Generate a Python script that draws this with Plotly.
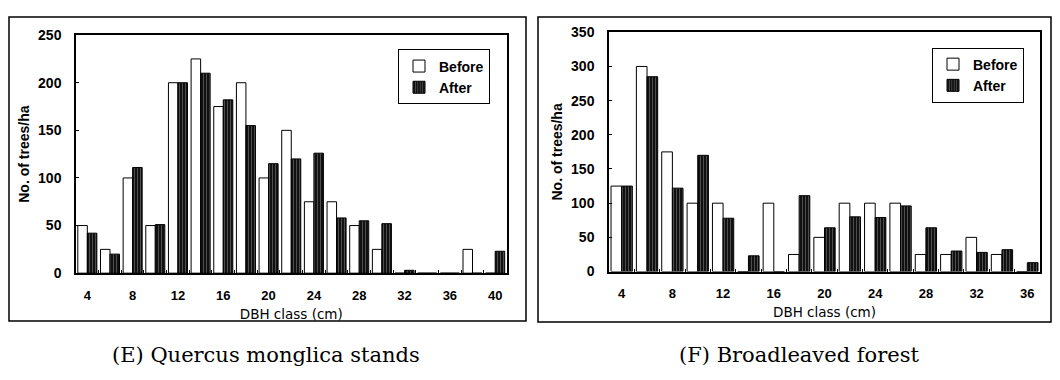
import plotly.graph_objects as go

# figure size leaves room for the page's default 8px body margin
FW, FH = 1044, 364
OFF = 8

# ---- Data: (E) Quercus monglica stands ----
e_classes = [4, 6, 8, 10, 12, 14, 16, 18, 20, 22, 24, 26, 28, 30, 32, 34, 36, 38, 40]
e_before = [50, 25, 100, 50, 200, 225, 175, 200, 100, 150, 75, 75, 50, 25, 0, 0, 0, 25, 0]
e_after = [42, 20, 111, 51, 200, 210, 182, 155, 115, 120, 126, 58, 55, 52, 3, 0, 0, 0, 23]
e_ticks = [4, 8, 12, 16, 20, 24, 28, 32, 36, 40]

# ---- Data: (F) Broadleaved forest ----
f_classes = [4, 6, 8, 10, 12, 14, 16, 18, 20, 22, 24, 26, 28, 30, 32, 34, 36]
f_before = [125, 300, 175, 100, 100, 0, 100, 25, 50, 100, 100, 100, 25, 25, 50, 25, 0]
f_after = [125, 285, 122, 170, 78, 23, 0, 111, 64, 80, 79, 96, 64, 30, 28, 32, 13]
f_ticks = [4, 8, 12, 16, 20, 24, 28, 32, 36]

captions = ["(E) Quercus monglica stands", "(F) Broadleaved forest"]
y_title = "No. of trees/ha"
x_title = "DBH class (cm)"


def px(p):
    return (p - OFF) / FW


def py(p):
    return 1 - (p - OFF) / FH


BOLD = dict(family="Liberation Sans, Arial, sans-serif", size=14, color="black", weight="bold")

before_marker = dict(color="white", line=dict(color="black", width=1))
after_marker = dict(color="#111111", line=dict(color="black", width=1),
                    pattern=dict(shape="|", fgcolor="#9a9a9a", bgcolor="#111111",
                                 size=3, solidity=0.3))

fig = go.Figure()
fig.add_trace(go.Bar(x=e_classes, y=e_before, name="Before", marker=before_marker,
                     xaxis="x", yaxis="y", legend="legend"))
fig.add_trace(go.Bar(x=e_classes, y=e_after, name="After", marker=after_marker,
                     xaxis="x", yaxis="y", legend="legend"))
fig.add_trace(go.Bar(x=f_classes, y=f_before, name="Before", marker=before_marker,
                     xaxis="x2", yaxis="y2", legend="legend2"))
fig.add_trace(go.Bar(x=f_classes, y=f_after, name="After", marker=after_marker,
                     xaxis="x2", yaxis="y2", legend="legend2"))


def xaxis_cfg(domain, classes, ticks, anchor):
    lo, hi = classes[0] - 1, classes[-1] + 1
    return dict(
        domain=domain, range=[lo, hi], anchor=anchor,
        tickmode="array", tickvals=ticks, ticks="",
        showline=True, mirror=True, linecolor="black", linewidth=1.5,
        showgrid=False, zeroline=False,
        tickfont=dict(family=BOLD["family"], size=13, color="black", weight="bold"),
        ticklabelstandoff=9,
        minor=dict(tickmode="array", tickvals=[c + 1 for c in classes[:-1]],
                   ticks="inside", ticklen=3, tickcolor="black", showgrid=False),
        title=dict(text=x_title, standoff=8,
                   font=dict(family="DejaVu Sans, sans-serif", size=13.5, color="black")),
    )


def yaxis_cfg(domain, top, anchor):
    return dict(
        domain=domain, range=[0, top], anchor=anchor, dtick=50,
        ticks="inside", ticklen=3, tickcolor="black",
        showline=True, mirror=True, linecolor="black", linewidth=1.5,
        showgrid=False, zeroline=False,
        tickfont=BOLD, ticklabelstandoff=10,
        title=dict(text=y_title, standoff=5, font=BOLD),
    )


legend_common = dict(xanchor="left", yanchor="top", bordercolor="black", borderwidth=1,
                     bgcolor="white", font=BOLD, itemwidth=30, tracegroupgap=0,
                     traceorder="normal")

fig.update_layout(
    width=FW, height=FH,
    margin=dict(l=0, r=0, t=0, b=0),
    paper_bgcolor="white", plot_bgcolor="white",
    barmode="group", bargap=0.16, bargroupgap=0,
    xaxis=xaxis_cfg([px(76), px(506.5)], e_classes, e_ticks, "y"),
    yaxis=yaxis_cfg([py(277), py(28)], 250, "x"),
    xaxis2=xaxis_cfg([px(609), px(1040)], f_classes, f_ticks, "y2"),
    yaxis2=yaxis_cfg([py(275.3), py(25)], 350, "x2"),
    legend=dict(x=px(398), y=py(43), **legend_common),
    legend2=dict(x=px(932), y=py(41), **legend_common),
    shapes=[
        dict(type="rect", xref="paper", yref="paper", x0=px(9), x1=px(526),
             y0=py(327), y1=py(9), line=dict(color="black", width=1.5), layer="below"),
        dict(type="rect", xref="paper", yref="paper", x0=px(538), x1=px(1051),
             y0=py(328), y1=py(9), line=dict(color="black", width=1.5), layer="below"),
    ],
    annotations=[
        dict(text=captions[0], xref="paper", yref="paper", x=px(266), y=py(363),
             xanchor="center", yanchor="middle", showarrow=False,
             font=dict(family="DejaVu Serif, serif", size=21, color="black")),
        dict(text=captions[1], xref="paper", yref="paper", x=px(799), y=py(363),
             xanchor="center", yanchor="middle", showarrow=False,
             font=dict(family="DejaVu Serif, serif", size=21, color="black")),
    ],
)

fig.write_html("out.html")
